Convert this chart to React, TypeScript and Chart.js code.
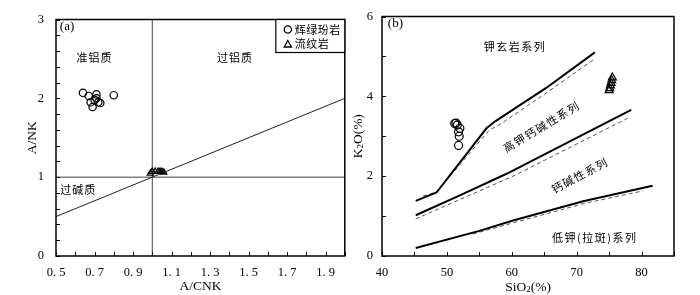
import React, { useEffect, useRef } from "react";
import { Chart, registerables } from "chart.js";
Chart.register(...registerables);

const SERIF = '"Liberation Serif", "Times New Roman", serif';
const CJK = '"Noto Sans CJK SC", sans-serif';

// ---------- Panel (a) : A/NK vs A/CNK ----------
const A_DIABASE_LABEL = "辉绿玢岩";
const A_RHYOLITE_LABEL = "流纹岩";
const A_DIABASE_X = [0.64, 0.67, 0.71, 0.70, 0.72, 0.69, 0.68, 0.71, 0.80, 0.73];
const A_DIABASE_Y = [2.07, 2.03, 2.05, 1.98, 1.95, 1.89, 1.95, 2.00, 2.04, 1.94];
const A_RHYOLITE_X = [0.99, 1.0, 1.015, 1.03, 1.04, 1.05, 1.06];
const A_RHYOLITE_Y = [1.05, 1.07, 1.07, 1.07, 1.07, 1.07, 1.06];
const A_HLINE_X = [0.5, 2.0];
const A_HLINE_Y = [1, 1];
const A_VLINE_X = [1, 1];
const A_VLINE_Y = [0, 3];
const A_DIAG_X = [0.5, 2.0];
const A_DIAG_Y = [0.5, 2.0];
const A_X_TICKS = [0.5, 0.7, 0.9, 1.1, 1.3, 1.5, 1.7, 1.9];
const A_X_TICK_LABELS = ["0. 5", "0. 7", "0. 9", "1. 1", "1. 3", "1. 5", "1. 7", "1. 9"];
const A_X_MINOR = [0.5, 0.6, 0.7, 0.8, 0.9, 1.0, 1.1, 1.2, 1.3, 1.4, 1.5, 1.6, 1.7, 1.8, 1.9, 2.0];
const A_Y_TICKS = [0, 1, 2, 3];
const A_Y_TICK_LABELS = ["0", "1", "2", "3"];
const A_Y_MINOR = [0, 0.2, 0.4, 0.6, 0.8, 1.0, 1.2, 1.4, 1.6, 1.8, 2.0, 2.2, 2.4, 2.6, 2.8, 3.0];

// ---------- Panel (b) : K2O vs SiO2 ----------
const B_DIABASE_X = [51.2, 51.4, 51.6, 52.0, 51.8, 51.9, 51.8];
const B_DIABASE_Y = [3.32, 3.33, 3.28, 3.2, 3.11, 3.0, 2.77];
const B_RHYOLITE_X = [75.0, 75.1, 75.2, 75.3, 75.4, 75.5];
const B_RHYOLITE_Y = [4.15, 4.2, 4.27, 4.33, 4.4, 4.47];
const B_SHO_X = [45.2, 48.4, 56.1, 57.5, 65.3, 72.8];
const B_SHO_Y = [1.38, 1.59, 3.2, 3.38, 4.21, 5.1];
const B_SHO_D_X = [46.3, 48.4, 56.5, 58.2, 65.0, 72.6];
const B_SHO_D_Y = [1.5, 1.6, 3.15, 3.3, 4.05, 4.92];
const B_HK_X = [45.2, 52.0, 59.2, 78.4];
const B_HK_Y = [1.02, 1.52, 2.06, 3.66];
const B_HK_D_X = [45.2, 60.2, 78.2];
const B_HK_D_Y = [0.93, 2.0, 3.48];
const B_LK_X = [45.2, 55.0, 60.2, 71.0, 81.7];
const B_LK_Y = [0.2, 0.63, 0.89, 1.37, 1.76];
const B_LK_D_X = [54.0, 60.0, 71.0, 80.2];
const B_LK_D_Y = [0.55, 0.82, 1.31, 1.63];
const B_X_TICKS = [40, 50, 60, 70, 80];
const B_X_MINOR = [40, 45, 50, 55, 60, 65, 70, 75, 80, 85];
const B_Y_TICKS = [0, 2, 4, 6];
const B_Y_MINOR = [0, 1, 2, 3, 4, 5, 6];

type Note = { text: string; x: number; y: number; rot?: number; font: string; align?: CanvasTextAlign; spacing?: number };
// axis title split into [normal, subscript, normal]
type SubTitle = { parts: [string, string, string]; axis: "x" | "y"; offset: number };

const A_NOTES: Note[] = [
  { text: "(a)", x: 0.52, y: 2.91, font: `13px ${SERIF}`, align: "left" },
  { text: "准铝质", x: 0.70, y: 2.51, font: `11px ${CJK}`, spacing: 1 },
  { text: "过铝质", x: 1.43, y: 2.52, font: `11px ${CJK}`, spacing: 1 },
  { text: "过碱质", x: 0.615, y: 0.84, font: `11px ${CJK}`, spacing: 1 },
];
const B_NOTES: Note[] = [
  { text: "(b)", x: 40.9, y: 5.83, font: `13px ${SERIF}`, align: "left" },
  { text: "钾玄岩系列", x: 60.5, y: 5.24, font: `11px ${CJK}`, spacing: 1.5 },
  { text: "高钾钙碱性系列", x: 64.6, y: 3.24, rot: -31, font: `11px ${CJK}`, spacing: 1.5 },
  { text: "钙碱性系列", x: 70.5, y: 2.02, rot: -28, font: `11px ${CJK}`, spacing: 1.5 },
  { text: "低钾(拉斑)系列", x: 72.8, y: 0.46, font: `11px ${CJK}`, spacing: 1.5 },
];
const B_TITLES: SubTitle[] = [
  { parts: ["SiO", "2", "(%)"], axis: "x", offset: 31 },
  { parts: ["K", "2", "O(%)"], axis: "y", offset: 24 },
];

const pts = (xs: number[], ys: number[]) => xs.map((x, i) => ({ x, y: ys[i] }));

function decorPlugin(xMinor: number[], yMinor: number[], notes: Note[], legend: boolean, titles: SubTitle[]) {
  return {
    id: "decor",
    afterDraw(chart: any) {
      const { ctx, chartArea: a } = chart;
      const xs = chart.scales.x;
      const ys = chart.scales.y;
      ctx.save();
      ctx.strokeStyle = "#000";
      ctx.lineWidth = 1;
      ctx.beginPath();
      xMinor.forEach((v) => {
        const p = Math.round(xs.getPixelForValue(v)) + 0.5;
        ctx.moveTo(p, a.bottom);
        ctx.lineTo(p, a.bottom - 4);
      });
      yMinor.forEach((v) => {
        const p = Math.round(ys.getPixelForValue(v)) + 0.5;
        ctx.moveTo(a.left, p);
        ctx.lineTo(a.left + 4, p);
      });
      ctx.stroke();
      ctx.lineWidth = 1.5;
      ctx.strokeRect(a.left, a.top, a.right - a.left, a.bottom - a.top);
      ctx.fillStyle = "#000";
      notes.forEach((n) => {
        ctx.save();
        ctx.translate(xs.getPixelForValue(n.x), ys.getPixelForValue(n.y));
        if (n.rot) ctx.rotate((n.rot * Math.PI) / 180);
        ctx.font = n.font;
        (ctx as any).letterSpacing = `${n.spacing ?? 0}px`;
        ctx.textAlign = n.align ?? "center";
        ctx.textBaseline = "middle";
        ctx.fillText(n.text, 0, 0);
        ctx.restore();
      });
      titles.forEach((t) => {
        ctx.save();
        const big = `13.5px ${SERIF}`;
        const small = `9px ${SERIF}`;
        ctx.font = big;
        const w0 = ctx.measureText(t.parts[0]).width;
        const w2 = ctx.measureText(t.parts[2]).width;
        ctx.font = small;
        const w1 = ctx.measureText(t.parts[1]).width;
        const total = w0 + w1 + w2;
        if (t.axis === "x") {
          ctx.translate((a.left + a.right) / 2, a.bottom + t.offset);
        } else {
          ctx.translate(a.left - t.offset, (a.top + a.bottom) / 2);
          ctx.rotate(-Math.PI / 2);
        }
        ctx.textAlign = "left";
        ctx.textBaseline = "middle";
        let x = -total / 2;
        ctx.font = big;
        ctx.fillText(t.parts[0], x, 0);
        x += w0;
        ctx.font = small;
        ctx.fillText(t.parts[1], x, 3);
        x += w1;
        ctx.font = big;
        ctx.fillText(t.parts[2], x, 0);
        ctx.restore();
      });
      if (legend) {
        const w = 69;
        const h = 33;
        const l = a.right - w;
        const t = a.top;
        ctx.fillStyle = "#fff";
        ctx.fillRect(l, t, w, h);
        ctx.lineWidth = 1.2;
        ctx.strokeRect(l, t, w, h);
        ctx.fillStyle = "#000";
        ctx.font = `11px ${CJK}`;
        (ctx as any).letterSpacing = "0.5px";
        ctx.textAlign = "left";
        ctx.textBaseline = "middle";
        const ds = chart.data.datasets;
        ctx.lineWidth = 1.3;
        ctx.beginPath();
        ctx.arc(l + 12, t + 10, 3.6, 0, Math.PI * 2);
        ctx.stroke();
        ctx.fillText(ds[0].label, l + 19, t + 10);
        const cx = l + 12;
        const cy = t + 25;
        ctx.beginPath();
        ctx.moveTo(cx, cy - 4);
        ctx.lineTo(cx + 3.6, cy + 2.5);
        ctx.lineTo(cx - 3.6, cy + 2.5);
        ctx.closePath();
        ctx.stroke();
        ctx.fillText(ds[1].label, l + 19, t + 24);
      }
      ctx.restore();
    },
  };
}

function lineDs(data: any[], width: number, color: string, dash: number[] = []) {
  return {
    label: "",
    data,
    showLine: true,
    pointRadius: 0,
    borderColor: color,
    borderWidth: width,
    borderDash: dash,
    fill: false,
    tension: 0,
  };
}

function pointDs(label: string, data: any[], style: string, r: number) {
  return {
    label,
    data,
    showLine: false,
    pointStyle: style,
    pointRadius: r,
    pointBorderWidth: 1.2,
    pointBorderColor: "#000",
    pointBackgroundColor: "rgba(255,255,255,0)",
    borderColor: "#000",
    backgroundColor: "rgba(255,255,255,0)",
  };
}

function axisCommon(ticksVals: number[], labels: string[], min: number, max: number, fit: (s: any) => void, padding: number) {
  return {
    type: "linear",
    min,
    max,
    afterBuildTicks: (s: any) => {
      s.ticks = ticksVals.map((v) => ({ value: v }));
    },
    afterFit: fit,
    ticks: {
      autoSkip: false,
      maxRotation: 0,
      padding,
      color: "#000",
      font: { family: SERIF, size: 12.5 },
      callback: (_v: any, i: number) => labels[i],
    },
    grid: { display: false, drawTicks: false, tickLength: 0 },
    border: { display: false },
  };
}

function makeA() {
  return {
    type: "scatter",
    data: {
      datasets: [
        pointDs(A_DIABASE_LABEL, pts(A_DIABASE_X, A_DIABASE_Y), "circle", 3.7),
        pointDs(A_RHYOLITE_LABEL, pts(A_RHYOLITE_X, A_RHYOLITE_Y), "triangle", 3.6),
        lineDs(pts(A_DIAG_X, A_DIAG_Y), 1, "#222"),
        lineDs(pts(A_HLINE_X, A_HLINE_Y), 1, "#444"),
        lineDs(pts(A_VLINE_X, A_VLINE_Y), 1, "#444"),
      ],
    },
    options: {
      responsive: false,
      animation: false,
      layout: { padding: { top: 10, right: 3, left: 0, bottom: 0 } },
      plugins: { legend: { display: false }, tooltip: { enabled: false } },
      scales: {
        x: {
          ...axisCommon(A_X_TICKS, A_X_TICK_LABELS, 0.5, 2.0, (s: any) => { s.height = 39; }, 9),
          title: { display: true, text: "A/CNK", color: "#000", font: { family: SERIF, size: 13.5 }, padding: { top: 0, bottom: 0 } },
        },
        y: {
          ...axisCommon(A_Y_TICKS, A_Y_TICK_LABELS, 0, 3, (s: any) => { s.width = 56; }, 12),
          title: { display: true, text: "A/NK", color: "#000", font: { family: SERIF, size: 13.5 }, padding: { top: 24, bottom: 0 } },
        },
      },
    },
    plugins: [decorPlugin(A_X_MINOR, A_Y_MINOR, A_NOTES, true, [])],
  };
}

function makeB() {
  return {
    type: "scatter",
    data: {
      datasets: [
        pointDs(A_DIABASE_LABEL, pts(B_DIABASE_X, B_DIABASE_Y), "circle", 4),
        pointDs(A_RHYOLITE_LABEL, pts(B_RHYOLITE_X, B_RHYOLITE_Y), "triangle", 4.6),
        lineDs(pts(B_SHO_X, B_SHO_Y), 2, "#000"),
        lineDs(pts(B_HK_X, B_HK_Y), 2, "#000"),
        lineDs(pts(B_LK_X, B_LK_Y), 2, "#000"),
        lineDs(pts(B_SHO_D_X, B_SHO_D_Y), 1, "#555", [4, 3]),
        lineDs(pts(B_HK_D_X, B_HK_D_Y), 1, "#555", [4, 3]),
        lineDs(pts(B_LK_D_X, B_LK_D_Y), 1, "#555", [4, 3]),
      ],
    },
    options: {
      responsive: false,
      animation: false,
      layout: { padding: { top: 10, right: 26, left: 0, bottom: 0 } },
      plugins: { legend: { display: false }, tooltip: { enabled: false } },
      scales: {
        x: {
          ...axisCommon(B_X_TICKS, B_X_TICKS.map(String), 40, 85, (s: any) => { s.height = 39; }, 9),
        },
        y: {
          ...axisCommon(B_Y_TICKS, B_Y_TICKS.map(String), 0, 6, (s: any) => { s.width = 32; }, 9),
        },
      },
    },
    plugins: [decorPlugin(B_X_MINOR, B_Y_MINOR, B_NOTES, false, B_TITLES)],
  };
}

function Panel({ make, left }: { make: () => any; left: number }) {
  const ref = useRef<HTMLCanvasElement | null>(null);
  useEffect(() => {
    if (!ref.current) return;
    const chart = new Chart(ref.current, make());
    return () => chart.destroy();
  }, [make]);
  return (
    <div style={{ position: "absolute", left, top: 0, width: 350, height: 295 }}>
      <canvas ref={ref} width={350} height={295} style={{ display: "block" }} />
    </div>
  );
}

export default function App() {
  return (
    <div style={{ position: "fixed", left: 0, top: 0, width: 700, height: 295, background: "#fff" }}>
      <Panel make={makeA} left={0} />
      <Panel make={makeB} left={350} />
    </div>
  );
}
